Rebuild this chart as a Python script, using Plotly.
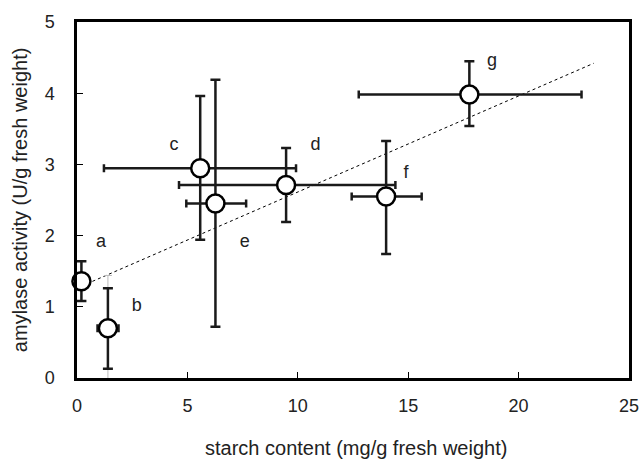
import plotly.graph_objects as go

labels = ["a", "b", "c", "d", "e", "f", "g"]
starch = [0.2, 1.40, 5.58, 9.47, 6.27, 14.0, 17.77]
amylase = [1.36, 0.70, 2.945, 2.71, 2.45, 2.55, 3.98]
starch_lo = [0.2, 0.93, 1.22, 4.62, 4.95, 12.44, 12.76]
starch_hi = [0.2, 1.88, 9.92, 14.42, 7.66, 15.61, 22.85]
amylase_lo = [1.08, 0.13, 1.94, 2.19, 0.72, 1.74, 3.54]
amylase_hi = [1.64, 1.26, 3.96, 3.23, 4.19, 3.33, 4.45]

label_x = [1.09, 2.71, 4.39, 10.8, 7.6, 14.9, 18.8]
label_y = [1.90, 1.01, 3.27, 3.27, 1.90, 2.87, 4.44]

trend_x = [0.2, 23.4]
trend_y = [1.29, 4.42]

x_ticks = [0, 5, 10, 15, 20, 25]
y_ticks = [0, 1, 2, 3, 4, 5]
x_title = "starch content (mg/g fresh weight)"
y_title = "amylase activity (U/g fresh weight)"

# faint grey bar behind point b
ghost_x = [1.40]
ghost_y = [0.70]
ghost_lo = [-0.05]
ghost_hi = [1.44]

FONT = "Liberation Sans, Arial, Helvetica"

fig = go.Figure()

fig.add_trace(go.Scatter(
    x=trend_x, y=trend_y, mode="lines",
    line=dict(color="black", width=1, dash="3px,3px"),
    showlegend=False, hoverinfo="skip"))

fig.add_trace(go.Scatter(
    x=ghost_x, y=ghost_y, mode="markers",
    marker=dict(size=1, color="rgba(0,0,0,0)"),
    error_y=dict(type="data", symmetric=False,
                 array=[h - v for h, v in zip(ghost_hi, ghost_y)],
                 arrayminus=[v - l for l, v in zip(ghost_lo, ghost_y)],
                 color="#bbbbbb", thickness=1, width=4),
    showlegend=False, hoverinfo="skip", cliponaxis=False))

fig.add_trace(go.Scatter(
    x=starch, y=amylase, mode="markers",
    marker=dict(size=18, color="white", line=dict(color="black", width=2.5)),
    error_x=dict(type="data", symmetric=False,
                 array=[h - v for h, v in zip(starch_hi, starch)],
                 arrayminus=[v - l for l, v in zip(starch_lo, starch)],
                 color="#1a1a1a", thickness=2.5, width=4),
    error_y=dict(type="data", symmetric=False,
                 array=[h - v for h, v in zip(amylase_hi, amylase)],
                 arrayminus=[v - l for l, v in zip(amylase_lo, amylase)],
                 color="#1a1a1a", thickness=2.5, width=5),
    showlegend=False, cliponaxis=False))

fig.add_trace(go.Scatter(
    x=label_x, y=label_y, mode="text", text=labels,
    textfont=dict(family=FONT, size=18, color="#222"),
    showlegend=False, hoverinfo="skip"))

axis_common = dict(
    showline=True, linecolor="black", linewidth=2.5, mirror=True,
    ticks="inside", ticklen=6, tickwidth=1, tickcolor="black",
    showgrid=False, zeroline=False, automargin=False,
    tickfont=dict(family=FONT, size=18, color="#222"),
)

fig.update_layout(
    width=643, height=459,
    margin=dict(l=77, r=14, t=22, b=81),
    paper_bgcolor="white", plot_bgcolor="white",
    font=dict(family=FONT, color="black"),
    xaxis=dict(range=[0, 25], tickvals=x_ticks, ticklabelstandoff=10,
               **axis_common),
    yaxis=dict(range=[0, 5], tickvals=y_ticks, ticklabelstandoff=16,
               **axis_common),
    annotations=[
        dict(text=x_title, xref="paper", yref="paper", x=0.505, y=-0.197,
             xanchor="center", yanchor="middle", showarrow=False,
             font=dict(family=FONT, size=20, color="#222")),
        dict(text=y_title, xref="paper", yref="paper", x=-0.103, y=0.5,
             xanchor="center", yanchor="middle", showarrow=False, textangle=-90,
             font=dict(family=FONT, size=20, color="#222")),
    ],
)

fig.write_html("out.html",
               config={"displayModeBar": False},
               post_script="document.body.style.margin='0px';document.body.style.overflow='hidden';")
